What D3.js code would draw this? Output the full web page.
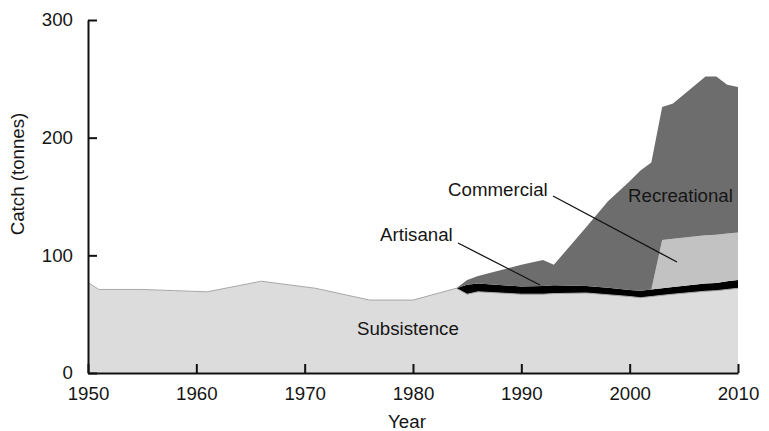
<!DOCTYPE html>
<meta charset="utf-8">
<head>
  <script src="https://d3js.org/d3.v7.min.js"></script>
  <style>
    html, body {
      margin: 0;
      padding: 0;
      background: #fff;
    }
    svg text {
      font-family: "Liberation Sans", Arial, sans-serif;
      fill: #151515;
    }
  </style>
</head>
<body>
  <svg id="chart" width="769" height="431"></svg>
</body>
<script>
  // breakpoint years
  const years = [1950, 1951, 1955, 1958, 1961, 1966, 1971, 1976, 1980, 1984, 1985, 1986, 1990,
    1992, 1993, 1996, 1998, 2000, 2001, 2002, 2003, 2004, 2007, 2008, 2009, 2010]
  const subsistence = [77, 71, 71, 70, 69, 78, 72, 62, 62, 72, 67, 69, 67,
    67, 67.5, 68, 66.5, 65, 64, 65, 66, 67, 69.5, 70, 71, 72]
  const artisanal = [0, 0, 0, 0, 0, 0, 0, 0, 0, 0, 8, 7, 6.5,
    7, 7, 6, 6, 5.6, 6, 6, 6, 6, 6.5, 6.5, 7, 7]
  const commercial = [0, 0, 0, 0, 0, 0, 0, 0, 0, 0, 0, 0, 0,
    0, 0, 0, 0, 0, 0, 0, 41, 41, 41, 41, 40.5, 40.5]
  const recreational = [0, 0, 0, 0, 0, 0, 0, 0, 0, 0, 4, 6.5, 18.5,
    22, 17.5, 50, 73.5, 92.4, 102, 108, 113, 115, 135, 134.5, 126.5, 123.5]

  const keys = ["subsistence", "artisanal", "commercial", "recreational"]
  const colors = { subsistence: "#dcdcdc", artisanal: "#000", commercial: "#c2c2c2", recreational: "#6d6d6d" }
  const xTicks = [1950, 1960, 1970, 1980, 1990, 2000, 2010]
  const yTicks = [0, 100, 200, 300]

  const rows = years.map((y, i) => ({
    year: y,
    subsistence: subsistence[i],
    artisanal: artisanal[i],
    commercial: commercial[i],
    recreational: recreational[i]
  }))

  let svg = d3.select("#chart")
  const fs = "18.7px"

  let x = d3.scaleLinear().domain([1950, 2010]).range([88, 738])
  let y = d3.scaleLinear().domain([0, 300]).range([373, 20])

  let series = d3.stack().keys(keys)(rows)

  let area = d3.area()
    .x(d => x(d.data.year))
    .y0(d => y(d[0]))
    .y1(d => y(d[1]))

  svg.append("g")
    .selectAll("path")
    .data(series)
    .enter().append("path")
    .attr("d", area)
    .attr("fill", d => colors[d.key])

  // faint outline on top of subsistence
  svg.append("path")
    .datum(rows)
    .attr("d", d3.line().x(d => x(d.year)).y(d => y(d.subsistence)))
    .attr("fill", "none")
    .attr("stroke", "#a8a8a8")
    .attr("stroke-width", 1)

  let xAxis = svg.append("g")
    .attr("transform", "translate(0,373)")
    .call(d3.axisBottom(x).tickValues(xTicks).tickFormat(d3.format("d"))
      .tickSizeInner(-9).tickSizeOuter(0).tickPadding(14))
  let yAxis = svg.append("g")
    .attr("transform", "translate(88,0)")
    .call(d3.axisLeft(y).tickValues(yTicks)
      .tickSizeInner(-9).tickSizeOuter(0).tickPadding(15))

  for (const g of [xAxis, yAxis]) {
    g.selectAll("path, line").attr("stroke", "#111").attr("stroke-width", 2)
    g.selectAll("text").style("font-size", fs).attr("fill", "#151515")
  }
  yAxis.selectAll(".tick").filter(d => d === 0).select("text").attr("dy", "0.28em")

  svg.append("text")
    .attr("x", 407).attr("y", 428)
    .attr("text-anchor", "middle")
    .style("font-size", fs)
    .text("Year")

  svg.append("text")
    .attr("transform", "translate(24,174) rotate(-90)")
    .attr("text-anchor", "middle")
    .style("font-size", fs)
    .text("Catch (tonnes)")

  // series labels
  const labels = [
    { t: "Subsistence", x: 357, y: 335 },
    { t: "Artisanal", x: 380, y: 241 },
    { t: "Commercial", x: 448, y: 196 },
    { t: "Recreational", x: 628, y: 202 }
  ]
  svg.append("g")
    .selectAll("text")
    .data(labels)
    .enter().append("text")
    .attr("x", d => d.x).attr("y", d => d.y)
    .style("font-size", fs)
    .text(d => d.t)

  // leader lines
  svg.append("line")
    .attr("x1", 458).attr("y1", 243).attr("x2", 540).attr("y2", 285)
    .attr("stroke", "#111").attr("stroke-width", 1.3)
  svg.append("line")
    .attr("x1", 553).attr("y1", 196).attr("x2", 677).attr("y2", 262)
    .attr("stroke", "#111").attr("stroke-width", 1.3)
</script>
